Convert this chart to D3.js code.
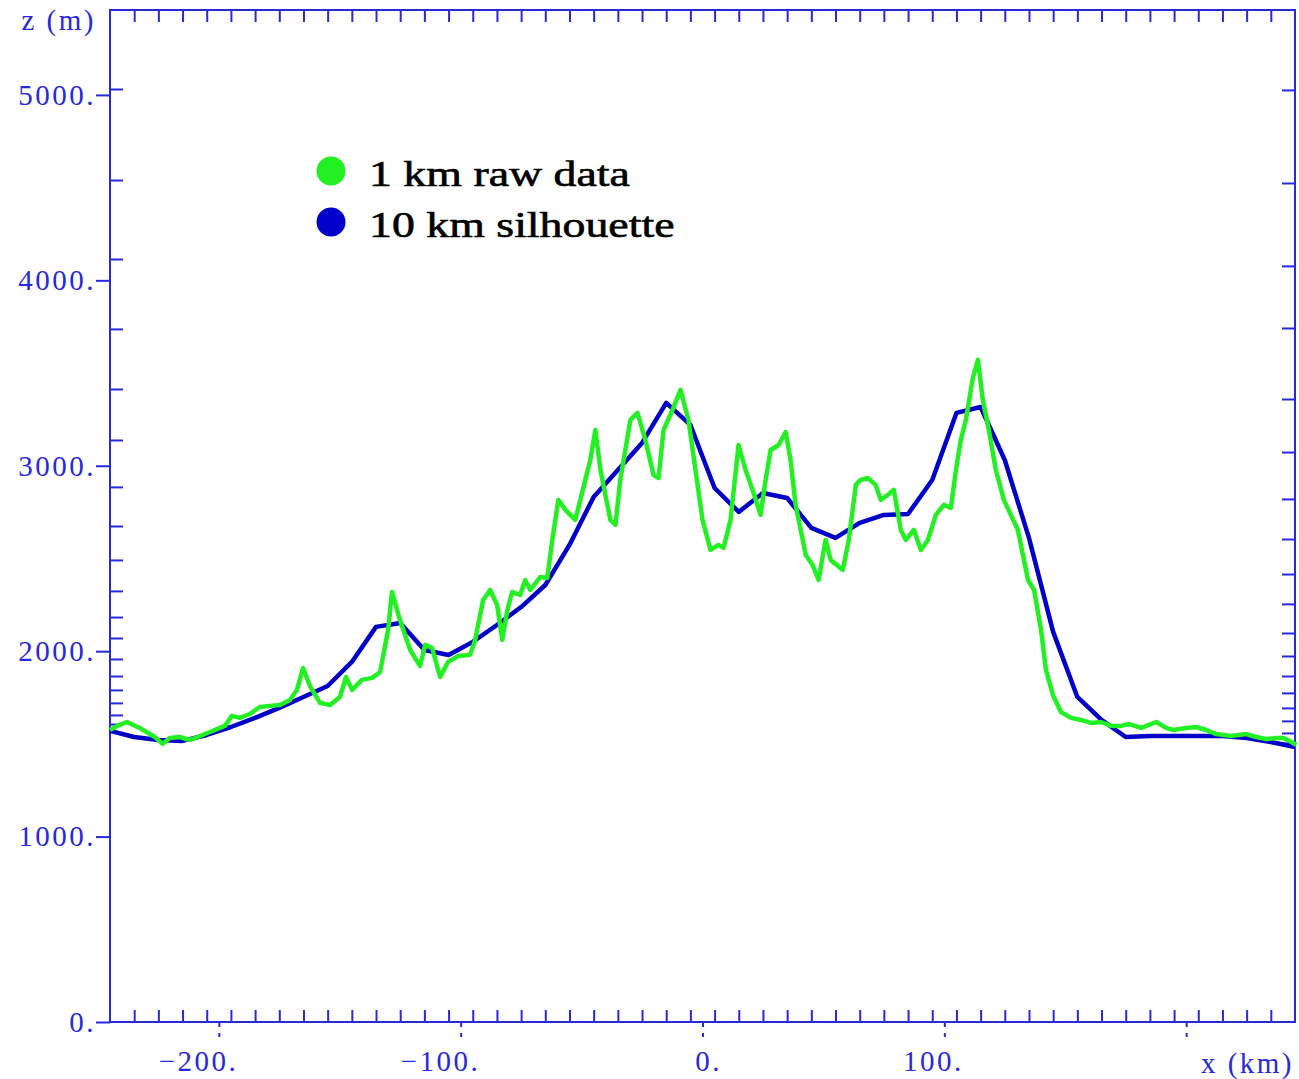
<!DOCTYPE html>
<html>
<head>
<meta charset="utf-8">
<script src="https://cdn.jsdelivr.net/npm/d3@7"></script>
<style>
  body { margin: 0; background: #fff; }
</style>
</head>
<body>
<div id="chart"></div>
<script>

// 10 km silhouette, one value per grid cell (km, m)
let silX = [-245,-235,-225,-215,-205,-195,-185,-175,-165,-155,-145,-135,-125,-115,-105,-95,-85,-75,-65,-55,
            -45,-35,-25,-15,-5,5,15,25,35,45,55,65,75,85,95,105,115,125,135,145,
            155,165,175,185,195,205,215,225,235,245]
let silZ = [1570,1537,1521,1516,1548,1591,1640,1694,1753,1812,1942,2131,2152,2006,1979,2050,2141,2238,2357,2573,
            2832,2977,3123,3339,3220,2880,2751,2853,2826,2665,2611,2692,2735,2740,2923,3285,3317,3031,2611,2104,
            1753,1629,1537,1543,1543,1543,1543,1532,1510,1483]

// 1 km raw data at its turning points (km, m)
let rawX = [-245,-242,-238,-232.7,-226.5,-223.2,-220.3,-216.2,-212,-208.7,-203.7,-197.5,-194.6,-191.3,-187.2,-183,-178.9,-174.7,-170.6,-167.7,
            -165.2,-162.3,-158.2,-154,-149.9,-147.4,-144.9,-140.8,-136.6,-133.3,-130,-128.4,-125.1,-120.9,-116.8,-114.7,-111.8,-108.5,-105.2,-101,
            -96.1,-94,-90.7,-87.8,-84.9,-82.8,-80.7,-78.7,-75.4,-73.3,-71.2,-67.1,-64.2,-62.1,-59.6,-56.7,-52.6,-50.5,-46.4,-44.3,
            -42.2,-38.1,-36,-34,-29.8,-26.9,-23.6,-20.3,-18.2,-16.1,-12.4,-9.1,-5.8,-2.9,0,3.3,6.6,8.7,11.6,14.9,
            17.8,20.7,24,26.1,28.2,31.5,34.4,36.4,38.5,40.6,42.7,45.5,48,50.9,53,55.5,58,60.5,63.4,65.4,
            68.3,71.6,73.7,76.6,79.1,82,84.1,87.4,90.3,93.2,96.5,99.8,102.7,104.8,106.8,108.9,111.8,113.9,115.9,118.4,
            121.3,124.6,127.5,130.4,132.5,134.6,137.1,140,142,144.9,148.2,152.4,156.5,160.7,164.8,168.9,173.1,176.4,181.4,187.6,
            191.7,194.6,200,204.1,208.3,212.4,218.6,224.8,229,233.1,237.3,240.2,243.5,245.6]
let rawZ = [1575,1597,1618,1586,1537,1500,1532,1537,1521,1537,1564,1597,1651,1640,1661,1699,1705,1710,1737,1791,
            1909,1812,1721,1710,1753,1861,1791,1845,1856,1888,2114,2319,2168,2007,1920,2034,2017,1861,1942,1974,
            1980,2061,2276,2330,2249,2061,2222,2319,2303,2384,2330,2400,2395,2600,2816,2762,2708,2816,3031,3193,
            2977,2708,2681,2924,3247,3285,3139,2951,2934,3193,3301,3409,3247,2977,2708,2546,2573,2557,2708,3112,
            2977,2870,2735,2924,3085,3112,3182,3031,2789,2654,2519,2465,2384,2600,2492,2465,2438,2600,2897,2924,
            2934,2897,2816,2843,2870,2654,2600,2654,2546,2600,2735,2789,2773,2977,3139,3247,3474,3571,3355,3193,
            2977,2816,2735,2654,2519,2384,2330,2114,1899,1764,1672,1640,1629,1613,1618,1597,1597,1607,1586,1618,
            1586,1575,1586,1591,1575,1553,1543,1553,1537,1526,1532,1532,1510,1494]

// axis ticks and labels
let xMajor = [-200,-100,0,100,200]
let xLabels = ["−200.","−100.","0.","100.",""]
let xMinor = [-235,-225,-215,-205,-195,-185,-175,-165,-155,-145,-135,-125,-115,-105,-95,-85,-75,-65,-55,-45,-35,-25,-15,-5,
              5,15,25,35,45,55,65,75,85,95,105,115,125,135,145,155,165,175,185,195,205,215,225,235]
let zMajor = [0,1000,2000,3000,4000,5000]
let zLabels = ["0.","1000.","2000.","3000.","4000.","5000."]
// model level heights at the left and right edges
let levelsLeft = [5032,4541,4115,3738,3414,3139,2886,2675,2492,2325,2184,2071,1958,1866,1791,1721,1656,1607]
let levelsRight = [5027,4525,4078,3743,3360,3074,2821,2605,2416,2255,2098,1974,1866,1775,1694,1624,1559,1505]

let legendNames = ["1 km raw data","10 km silhouette"]
let legendColors = ["#22f022","#0000c8"]

let axisBlue = "#2828dc"
let labelFont = "'Liberation Serif', serif"

let svg = d3.select("#chart").append("svg")
svg.attr("width", 1299)
svg.attr("height", 1079)

let x = d3.scaleLinear().domain([-245, 245]).range([110, 1295])
let y = d3.scaleLinear().domain([0, 5458]).range([1022, 10])

// helper to style an axis group
function styleAxis(g) {
  g.select(".domain").remove()
  g.selectAll(".tick line").attr("stroke", axisBlue).attr("stroke-width", 2)
  g.selectAll(".tick text").attr("fill", axisBlue)
    .style("font-family", labelFont).style("font-size", "29px")
    .style("letter-spacing", "2.5px")
}

// minor ticks: top and bottom every 10 km, sides at model levels
svg.append("g").attr("transform", "translate(0,10)")
  .call(d3.axisBottom(x).tickValues(xMinor).tickSize(12).tickFormat(""))
  .call(styleAxis)
svg.append("g").attr("transform", "translate(0,1022)")
  .call(d3.axisTop(x).tickValues(xMinor).tickSize(12).tickFormat(""))
  .call(styleAxis)
svg.append("g").attr("transform", "translate(110,0)")
  .call(d3.axisRight(y).tickValues(levelsLeft).tickSize(13).tickFormat(""))
  .call(styleAxis)
svg.append("g").attr("transform", "translate(1295,0)")
  .call(d3.axisLeft(y).tickValues(levelsRight).tickSize(13).tickFormat(""))
  .call(styleAxis)

// major ticks with labels
svg.append("g").attr("transform", "translate(110,0)")
  .call(d3.axisLeft(y).tickValues(zMajor).tickSize(14).tickPadding(0)
        .tickFormat((d, i) => zLabels[i]))
  .call(styleAxis)

let xAxis = svg.append("g").attr("transform", "translate(0,1022)")
  .call(d3.axisBottom(x).tickValues(xMajor).tickSize(15).tickPadding(13)
        .tickFormat((d, i) => xLabels[i]))
  .call(styleAxis)
xAxis.selectAll(".tick line").attr("stroke-dasharray", "5,6")
xAxis.selectAll(".tick text").attr("text-anchor", "end").attr("x", 19)

// frame
svg.append("rect")
  .attr("x", 110).attr("y", 10)
  .attr("width", 1185).attr("height", 1012)
  .attr("fill", "none").attr("stroke", axisBlue).attr("stroke-width", 2)

// axis titles
svg.append("text").attr("x", 96).attr("y", 20)
  .attr("text-anchor", "end").attr("dominant-baseline", "central")
  .style("font-family", labelFont).style("font-size", "29px").style("letter-spacing", "2.5px")
  .attr("fill", axisBlue)
  .text("z (m)")
svg.append("text").attr("x", 1294).attr("y", 1063)
  .attr("text-anchor", "end").attr("dominant-baseline", "central")
  .style("font-family", labelFont).style("font-size", "29px").style("letter-spacing", "2.5px")
  .attr("fill", axisBlue)
  .text("x (km)")

// curves
let line = d3.line().x(d => x(d[0])).y(d => y(d[1]))

svg.append("path")
  .datum(d3.zip(silX, silZ))
  .attr("d", line)
  .attr("fill", "none")
  .attr("stroke", legendColors[1])
  .attr("stroke-width", 4.5)
  .attr("stroke-linejoin", "round")

svg.append("path")
  .datum(d3.zip(rawX, rawZ))
  .attr("d", line)
  .attr("fill", "none")
  .attr("stroke", legendColors[0])
  .attr("stroke-width", 4.5)
  .attr("stroke-linejoin", "round")

// legend
let legend = svg.selectAll(".legend")
  .data(legendNames)
  .enter()
  .append("g")
  .attr("class", "legend")
  .attr("transform", (d, i) => "translate(331," + (171 + i * 51) + ")")

legend.append("circle")
  .attr("r", 14.5)
  .attr("fill", (d, i) => legendColors[i])

legend.append("text")
  .attr("transform", "translate(38,15) scale(1.31,1)")
  .style("font-family", "'Liberation Serif', serif")
  .style("font-size", "35px")
  .attr("fill", "#000")
  .attr("stroke", "#000")
  .attr("stroke-width", 0.6)
  .text(d => d)

</script>
</body>
</html>
